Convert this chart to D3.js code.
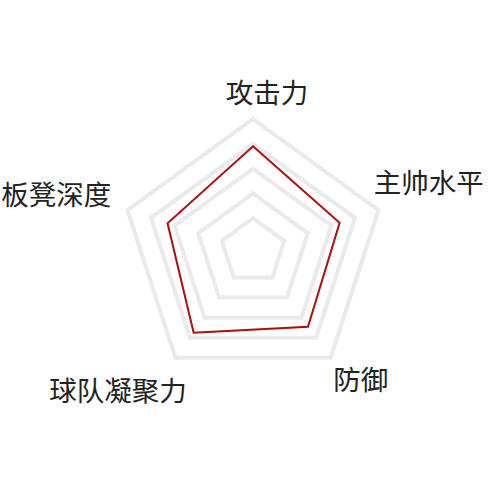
<!DOCTYPE html>
<html>
<head>
<meta charset="utf-8">
<script src="https://cdn.jsdelivr.net/npm/d3@7"></script>
<style>
  html, body { margin: 0; padding: 0; background: #fff; }
</style>
</head>
<body>
<div id="chart"></div>
<script>
// radar data
const axes = ["攻击力", "主帅水平", "防御", "球队凝聚力", "板凳深度"];
const values = [78, 67, 69, 75, 66];
const ringLevels = [20, 40, 60, 80, 100];

const width = 500, height = 500;
const cx = 253, cy = 251;
const outerRadius = 132;

// small per-label nudges so names sit where the reference puts them
const labelNudge = [[14, -10], [-22, -24], [-8, 6], [22, 17], [1, -12]];

const svg = d3.select("#chart")
  .append("svg")
  .attr("width", width)
  .attr("height", height);

const r = d3.scaleLinear()
  .domain([0, 100])
  .range([8, outerRadius]);

const angle = d3.scalePoint()
  .domain(axes)
  .range([0, 2 * Math.PI * (axes.length - 1) / axes.length]);

const g = svg.append("g")
  .attr("transform", `translate(${cx},${cy})`);

const radarLine = d3.lineRadial()
  .angle((d, i) => angle(axes[i]))
  .radius(d => r(d))
  .curve(d3.curveLinearClosed);

// grid rings
g.selectAll("path.ring")
  .data(ringLevels)
  .enter().append("path")
  .attr("class", "ring")
  .attr("d", lev => radarLine(axes.map(() => lev)))
  .attr("fill", "none")
  .attr("stroke", "#eaeaea")
  .attr("stroke-width", 4)
  .attr("stroke-linejoin", "miter");

// data polygon
g.append("path")
  .datum(values)
  .attr("d", radarLine)
  .attr("fill", "none")
  .attr("stroke", "#b00c0c")
  .attr("stroke-width", 2)
  .attr("stroke-linejoin", "miter");

// axis names
const labelR = r(100) + 18;
g.selectAll("text.axis-name")
  .data(axes)
  .enter().append("text")
  .attr("class", "axis-name")
  .attr("x", (d, i) => labelR * Math.sin(angle(d)) + labelNudge[i][0])
  .attr("y", (d, i) => -labelR * Math.cos(angle(d)) + labelNudge[i][1])
  .attr("text-anchor", d => {
    const s = Math.sin(angle(d));
    return Math.abs(s) < 0.2 ? "middle" : (s > 0 ? "start" : "end");
  })
  .attr("dominant-baseline", "central")
  .attr("font-family", "'Noto Sans CJK SC', 'Noto Sans', sans-serif")
  .attr("font-size", "27.5px")
  .attr("fill", "#222")
  .text(d => d);
</script>
</body>
</html>
